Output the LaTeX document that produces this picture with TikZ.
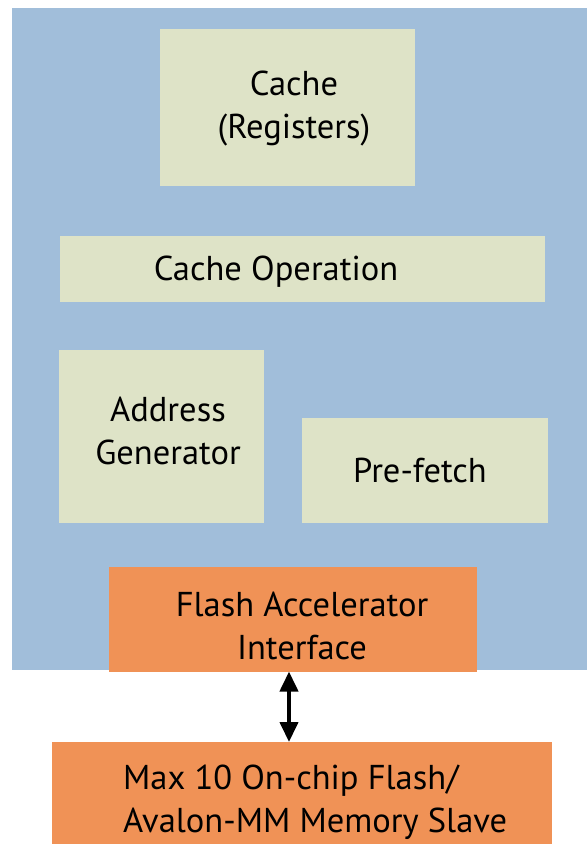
\documentclass[tikz,border=0pt]{standalone}
\usepackage{fontspec}
\setmainfont{PT Sans}
\usetikzlibrary{arrows.meta}
\definecolor{bgblue}{RGB}{161,190,218}
\definecolor{boxgreen}{RGB}{222,227,199}
\definecolor{boxorange}{RGB}{240,146,86}
\tikzset{
	block/.style={fill=boxgreen, inner sep=0pt, align=center, font=\fontsize{34.5}{43}\selectfont},
	hot/.style={block, fill=boxorange},
	label text/.style={block, fill=none},
}
\begin{document}
\begin{tikzpicture}[x=1pt, y=-1pt, >={Triangle[length=20pt,width=18pt]}, line join=round]
		\useasboundingbox (0,0) rectangle (587,844);
		%\draw[gray!50] (0,0) grid[step=50] (587,844);
		\fill[bgblue] (12,8) rectangle (587,670);
		\node[block, minimum width=255, minimum height=157] (cache) at (287.5,107.5) {};
		\node[label text] (cacheText) at (294,109) {Cache\\(Registers)};
		\node[block, minimum width=485, minimum height=66] (op) at (302.5,269) {};
		\node[label text] (opText) at (276,272) {Cache Operation};
		\node[block, minimum width=205, minimum height=173] (addr) at (161.5,436.5) {};
		\node[label text] (addrText) at (168,431) {Address\\Generator};
		\node[block, minimum width=246, minimum height=105] (pre) at (425,470.5) {};
		\node[label text] (preText) at (420,470) {Pre-fetch};
		\node[hot, minimum width=368, minimum height=105] (fai) at (293,619) {};
		\node[label text] (faiText) at (302,626) {Flash Accelerator\\Interface};
		\node[hot, minimum width=500, minimum height=102] (mem) at (302,793) {};
		\node[label text, align=left, anchor=west] (memText) at (123,802) {Max 10 On-chip Flash/\\Avalon-MM Memory Slave};
		\coordinate (arrTop) at (289,671.5);
		\coordinate (arrBot) at (289,742);
		\draw[<->, line width=4pt] (arrTop) -- (arrBot);
	\end{tikzpicture}
\end{document}
